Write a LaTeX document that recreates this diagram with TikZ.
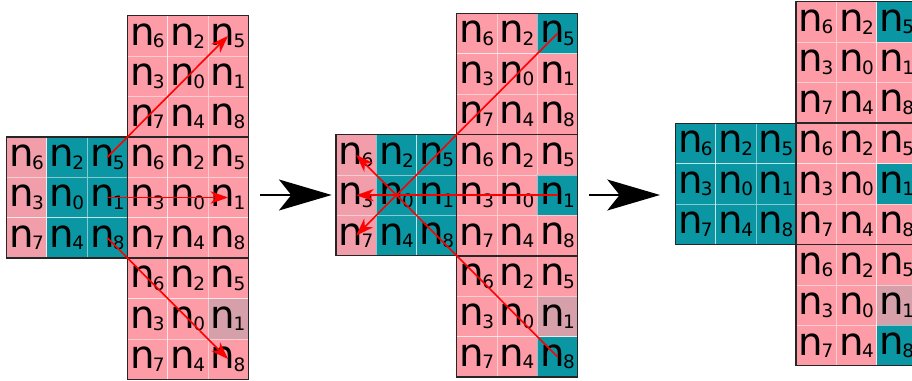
\documentclass[tikz,border=0pt]{standalone}
\usepackage{fontspec}
\setmainfont{DejaVu Sans}
\usetikzlibrary{arrows.meta}

\definecolor{cellpink}{RGB}{253,155,166}
\definecolor{edgepink}{RGB}{242,157,170}
\definecolor{cellteal}{RGB}{10,150,162}
\definecolor{cellgrey}{RGB}{214,160,170}

\newcommand{\cellsz}{40.33}
\newcommand{\nn}[1]{n\kern-1pt\raisebox{-1.5pt}{\fontsize{10.5}{10.5}\selectfont #1}}

% 3x3 block: #1 name, #2/#3 top left corner, #4 recoloured cells (label/colour)
\newcommand{\cellblock}[4]{%
  \foreach \lab in {0,...,8} {\expandafter\xdef\csname fc\lab\endcsname{cellpink}}
  \foreach \lab/\fcol in {#4} {\expandafter\xdef\csname fc\lab\endcsname{\fcol}}
  \foreach \lab [count=\k from 0] in {6,2,5,3,0,1,7,4,8} {
    \pgfmathtruncatemacro{\row}{int(\k/3)}
    \pgfmathtruncatemacro{\clm}{mod(\k,3)}
    \edef\fc{\csname fc\lab\endcsname}
    \node[cell, fill=\fc] (#1\lab) at ({#2+(\clm+0.5)*\cellsz}, {#3+(\row+0.5)*\cellsz}) {\nn{\lab}};
  }
  \draw[blockline] (#2,#3) rectangle +(3*\cellsz,3*\cellsz);
}

\begin{document}
\begin{tikzpicture}[x=0.02cm, y=-0.02cm,
    cell/.style={draw=white, draw opacity=0.5, line width=0.4pt, inner sep=0pt,
      minimum size=0.8066cm, font=\fontsize{22}{22}\selectfont},
    blockline/.style={draw=black!85, line width=0.85pt},
    redarrow/.style={draw=red, line width=0.9pt, -{Stealth[length=10pt, width=7pt, inset=3pt]}},
    bigarrow/.style={line width=1.1pt, -{Stealth[length=30pt, width=17.6pt, inset=7pt]}}]
    \clip (0,0) rectangle (912,381);

    % first step
    \cellblock{aL}{6.5}{137}{6/edgepink,3/edgepink,7/edgepink,2/cellteal,0/cellteal,4/cellteal,5/cellteal,1/cellteal,8/cellteal}
    \cellblock{aT}{127.3}{15.7}{0/cellpink}
    \cellblock{aM}{127.3}{137}{0/cellpink}
    \cellblock{aB}{127.3}{258.3}{1/cellgrey}

    % second step
    \cellblock{bL}{336}{134.7}{6/edgepink,3/edgepink,7/edgepink,2/cellteal,0/cellteal,4/cellteal,5/cellteal,1/cellteal,8/cellteal}
    \cellblock{bT}{456.7}{13.3}{5/cellteal}
    \cellblock{bM}{456.7}{134.7}{1/cellteal}
    \cellblock{bB}{456.7}{256}{1/cellgrey,8/cellteal}

    % third step
    \cellblock{cL}{675.3}{123.3}{6/cellteal,3/cellteal,7/cellteal,2/cellteal,0/cellteal,4/cellteal,5/cellteal,1/cellteal,8/cellteal}
    \cellblock{cT}{796}{1.7}{5/cellteal}
    \cellblock{cM}{796}{123.3}{1/cellteal}
    \cellblock{cB}{796}{244.7}{1/cellgrey,8/cellteal}

    \draw[redarrow] (aL5.center) -- (aT5.center);
    \draw[redarrow] (aL1.center) -- (aM1.center);
    \draw[redarrow] (aL8.center) -- (aB8.center);

    \draw[redarrow] (bT5.center) -- (bL7.center);
    \draw[redarrow] (bM1.center) -- (bL3.center);
    \draw[redarrow] (bB8.center) -- (bL6.center);

    \coordinate (go1) at (260,195);
    \coordinate (to1) at (331.7,195);
    \coordinate (go2) at (589,195);
    \coordinate (to2) at (660,195);
    \draw[bigarrow] (go1) -- (to1);
    \draw[bigarrow] (go2) -- (to2);
\end{tikzpicture}
\end{document}
